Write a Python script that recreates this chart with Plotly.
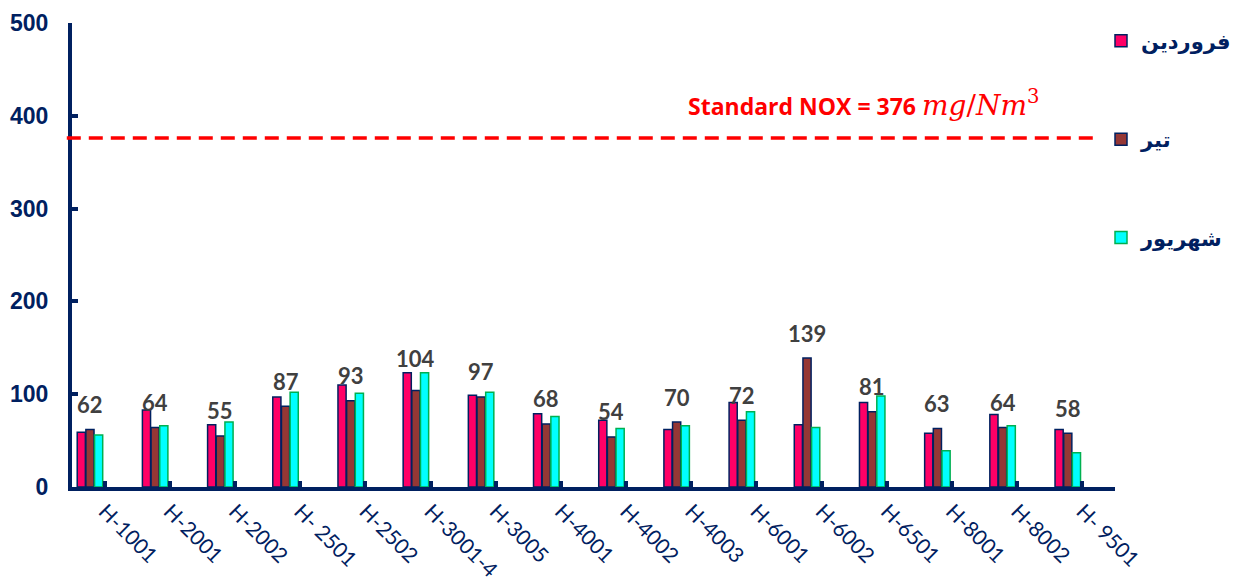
import plotly.graph_objects as go

units = ["H-1001", "H-2001", "H-2002", "H- 2501", "H-2502", "H-3001-4", "H-3005", "H-4001",
         "H-4002", "H-4003", "H-6001", "H-6002", "H-6501", "H-8001", "H-8002", "H- 9501"]

farvardin = [59, 83, 67, 97, 110, 123, 99, 79, 72, 62, 91, 67, 91, 58, 78, 62]
tir = [62, 64, 55, 87, 93, 104, 97, 68, 54, 70, 72, 139, 81, 63, 64, 58]
shahrivar = [56, 66, 70, 102, 101, 123, 102, 76, 63, 66, 81, 64, 98, 39, 66, 37]

standard_nox = 376

navy = "#002060"

fig = go.Figure()

bar_w = 0.125
series = [
    ("فروردین", farvardin, "#FF0066", navy, -0.42),
    ("تیر", tir, "#953735", navy, -0.287),
    ("شهریور", shahrivar, "#00FFFF", "#00B050", -0.154),
]
for i, (name, vals, col, edge, off) in enumerate(series):
    fig.add_trace(go.Bar(
        x=units, y=vals, name=name,
        width=bar_w, offset=off,
        marker=dict(color=col, line=dict(color=edge, width=1.5)),
        legendgroup=str(i),
    ))

# value labels (تیر values) above the middle bar of each group
for i, v in enumerate(tir):
    fig.add_annotation(
        x=i - 0.287 + bar_w / 2, y=v, xref="x", yref="y",
        text=f"<b>{v}</b>", showarrow=False, yshift=32 if v == 104 else 25,
        font=dict(family="Lato", size=22, color="#404040"),
    )

# standard limit line
fig.add_shape(type="line", xref="paper", yref="y", x0=-0.005, x1=0.985,
              y0=standard_nox, y1=standard_nox,
              line=dict(color="#FF0000", width=3.5, dash="14px,8px"))
fig.add_annotation(
    xref="paper", yref="y", x=0.589, xanchor="left", y=standard_nox, yshift=35,
    showarrow=False,
    text=(f"<b>Standard NOX = {standard_nox} </b>"
          "<span style='font-family:DejaVu Serif;font-size:28px'><i>mg</i>/<i>Nm</i><sup>3</sup></span>"),
    font=dict(family="Open Sans", size=23, color="#FF0000"),
)

# page body adds an 8px offset; figure made a bit wider so the legend isn't clipped
W = 1260
fig.update_layout(
    width=W, height=580,
    margin=dict(l=64, r=W - 64 - 1043, t=15, b=101, autoexpand=False),
    plot_bgcolor="white", paper_bgcolor="white",
    barmode="overlay",
    showlegend=True,
    legend=dict(xref="container", x=1093 / W, y=1.005, xanchor="left", yanchor="top",
                traceorder="grouped", tracegroupgap=68,
                font=dict(family="DejaVu Sans", size=21, color=navy, weight="bold"),
                bgcolor="rgba(0,0,0,0)"),
    xaxis=dict(
        type="category", showline=True, linecolor=navy, linewidth=4,
        ticks="inside", ticklen=6, tickwidth=4, tickcolor=navy,
        tickangle=45, showgrid=False, automargin=False,
        tickfont=dict(family="Lato", size=21, color=navy),
        range=[-0.5, len(units) - 0.5],
    ),
    yaxis=dict(
        range=[0, 500], dtick=100, showline=True, linecolor=navy, linewidth=4,
        ticks="inside", ticklen=6, tickwidth=4, tickcolor=navy,
        showgrid=False, zeroline=False, automargin=False,
        tickfont=dict(family="Arial", size=23, color=navy),
        tickprefix="<b>", ticksuffix="</b>", ticklabelstandoff=15,
    ),
)

fig.write_html("out.html")
